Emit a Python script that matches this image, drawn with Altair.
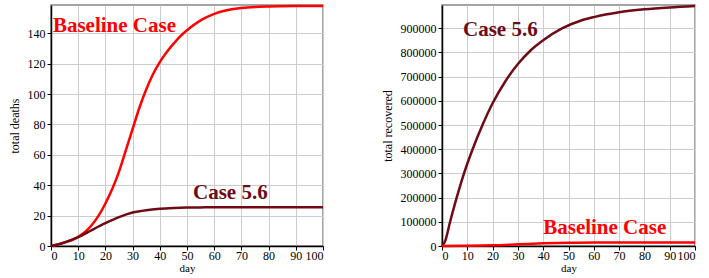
import altair as alt
import pandas as pd

# ---- data ----
base_days = [0, 2.5, 5, 7.5, 10, 12.5, 15, 17.5, 20, 22.5, 25, 27.5, 30, 32.5, 35, 37.5, 40,
             42.5, 45, 47.5, 50, 55, 60, 65, 70, 75, 80, 90, 100]
deaths_baseline = [0, 1, 2.3, 3.8, 6, 9.2, 13.8, 20, 28, 37.5, 49, 63, 77, 91, 103, 113, 121,
                   127.5, 133, 138, 142, 148.5, 152.8, 155.3, 156.6, 157.3, 157.6, 157.9, 158]
case_days = [0, 5, 10, 15, 20, 25, 30, 35, 40, 45, 50, 55, 60, 70, 80, 90, 100]
deaths_case56 = [0, 2.4, 5.8, 10.5, 15, 19, 22, 23.6, 24.5, 25, 25.3, 25.4, 25.5, 25.5, 25.5, 25.5, 25.5]

rec_case_days = [0, 1.3, 3.2, 5.8, 8.7, 12.1, 16, 20, 25, 30, 35, 40, 47.6, 55, 60, 70, 80, 90, 100]
rec_case56 = [0, 22000, 100000, 200000, 300000, 400000, 500000, 590000, 680000, 752000, 808000,
              850000, 900000, 932000, 946000, 966000, 978000, 986000, 992000]
rec_base_days = [0, 10, 20, 30, 40, 50, 60, 70, 80, 90, 100]
rec_baseline = [0, 1000, 3000, 7000, 11000, 13500, 14000, 14000, 14000, 14000, 14000]

# label positions (data coordinates)
left_labels = ["Baseline Case", "Case 5.6"]
left_label_x = [0.7, 52.2]
left_label_y = [145, 35]
right_labels = ["Case 5.6", "Baseline Case"]
right_label_x = [8.3, 40]
right_label_y = [893000, 74400]

RED = "#ff0000"
MAROON = "#6e0b14"

d_left = pd.concat([
    pd.DataFrame({"day": base_days, "v": deaths_baseline, "s": "Baseline Case"}),
    pd.DataFrame({"day": case_days, "v": deaths_case56, "s": "Case 5.6"}),
])
d_right = pd.concat([
    pd.DataFrame({"day": rec_case_days, "v": rec_case56, "s": "Case 5.6"}),
    pd.DataFrame({"day": rec_base_days, "v": rec_baseline, "s": "Baseline Case"}),
])
lab_left = pd.DataFrame({"t": left_labels, "day": left_label_x, "v": left_label_y})
lab_right = pd.DataFrame({"t": right_labels, "day": right_label_x, "v": right_label_y})

color_scale = alt.Scale(domain=["Baseline Case", "Case 5.6"], range=[RED, MAROON])


def panel(data, labels, ymax, yticks, ytitle, w):
    xaxis = alt.Axis(values=list(range(0, 101, 10)), title="day", titlePadding=1, tickSize=4,
                     labelPadding=0, titleFontWeight="normal", labelOverlap=False, grid=True,
                     titleFontSize=11)
    yaxis = alt.Axis(values=yticks, title=ytitle, tickSize=4, labelPadding=2,
                     titlePadding=6, titleFontWeight="normal", labelOverlap=False,
                     format="d", grid=True)
    x = alt.X("day:Q", scale=alt.Scale(domain=[0, 100], nice=False), axis=xaxis)
    y = alt.Y("v:Q", scale=alt.Scale(domain=[0, ymax], nice=False), axis=yaxis)
    lines = alt.Chart(data).mark_line(strokeWidth=2.5, interpolate="monotone").encode(
        x=x, y=y,
        color=alt.Color("s:N", scale=color_scale, legend=None),
        detail="s:N",
    )
    text = alt.Chart(labels).mark_text(align="left", baseline="middle", font="Liberation Serif",
                                       fontSize=21, fontWeight="bold").encode(
        x=x, y=y,
        color=alt.Color("t:N", scale=color_scale, legend=None),
        text="t:N",
    )
    return alt.layer(lines, text).properties(width=w, height=241)


left = panel(d_left, lab_left, 158.6, list(range(0, 141, 20)), "total deaths", 272)
right = panel(d_right, lab_right, 996000, list(range(0, 900001, 100000)), "total recovered", 253)

chart = alt.hconcat(left, right, spacing=51).properties(
    padding={"left": 7, "top": 0, "right": 5, "bottom": 0}
).configure_view(
    stroke="#888888", strokeWidth=1.5
).configure_axis(
    labelFont="Liberation Serif", titleFont="Liberation Serif",
    labelFontSize=12, titleFontSize=12, labelColor="#000", titleColor="#000",
    domainColor="#000", domainWidth=1.5, tickColor="#000",
    gridColor="#cccccc", gridWidth=1,
)

chart.save("out.html", embed_options={"renderer": "svg", "actions": False})
